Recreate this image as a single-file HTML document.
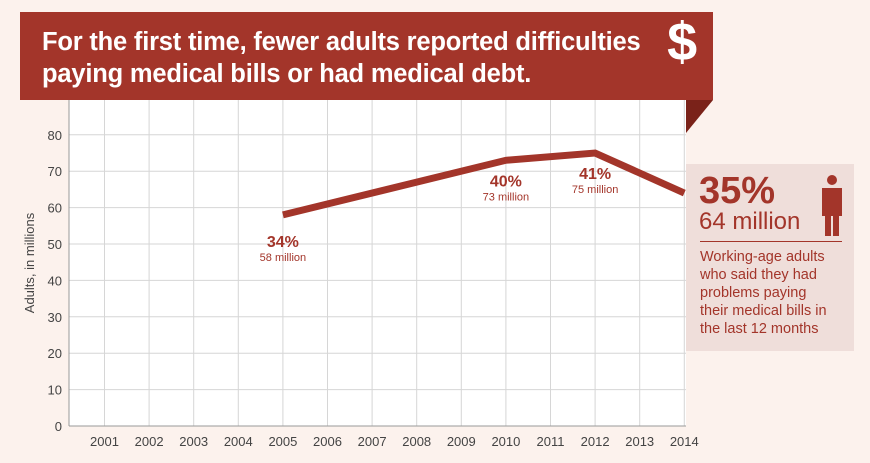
<!DOCTYPE html>
<html><head><meta charset="utf-8"><style>
body{margin:0;width:870px;height:463px;background:#fcf2ed;font-family:"Liberation Sans",sans-serif;overflow:hidden;position:relative}
.banner{position:absolute;left:20px;top:12px;width:693px;height:88px;background:#a3352a;color:#fff;font-weight:bold;font-size:25.5px;line-height:32px;box-sizing:border-box;padding:14px 0 0 22px;letter-spacing:-0.2px}
.dollar{position:absolute;right:16px;top:14px;font-size:54px;font-weight:bold}
.callout{position:absolute;left:686px;top:164px;width:168px;height:187px;background:#efdeda;color:#a3352a}
</style></head><body>
<svg width="870" height="463" style="position:absolute;left:0;top:0">
<rect x="69" y="100" width="617" height="326" fill="#fff"/>
<g id="grid"></g>
<line x1="69" y1="100" x2="69" y2="426" stroke="#999" stroke-width="1"/>
<text x="34" y="263" transform="rotate(-90 34 263)" text-anchor="middle" font-size="13" fill="#444">Adults, in millions</text>
<polygon points="686,100 713,100 686,133" fill="#7a2219"/>
<g id="marks"></g>
</svg>
<div class="banner">For the first time, fewer adults reported difficulties<br>paying medical bills or had medical debt.<span class="dollar">$</span></div>
<div class="callout">
<div style="position:absolute;left:13px;top:6px;font-size:38px;font-weight:bold">35%</div>
<div style="position:absolute;left:13px;top:44px;font-size:24px">64 million</div>
<svg style="position:absolute;left:134px;top:10px" width="24" height="62"><circle cx="12" cy="6" r="5" fill="#a3352a"/><path d="M2 14h20v28h-3v20h-6V42h-2v20H5V42H2z" fill="#a3352a"/></svg>
<div style="position:absolute;left:14px;top:77px;width:142px;height:1px;background:#a3352a"></div>
<div style="position:absolute;left:14px;top:84px;font-size:14.5px;line-height:18px">Working-age adults<br>who said they had<br>problems paying<br>their medical bills in<br>the last 12 months</div>
</div>
<script>
const years=[2001,2002,2003,2004,2005,2006,2007,2008,2009,2010,2011,2012,2013,2014];
const yTicks=[0,10,20,30,40,50,60,70,80];
const seriesYears=[2005,2010,2012,2014];
const seriesValues=[58,73,75,64];
const pctLabels=["34%","40%","41%",""];
const millionLabels=["58 million","73 million","75 million",""];
const NS="http://www.w3.org/2000/svg";
const X=y=>104.5+(y-2001)*44.6;
const Y=v=>426-v*3.64;
function mk(t,a,p){const e=document.createElementNS(NS,t);for(const k in a)e.setAttribute(k,a[k]);p.appendChild(e);return e;}
const g=document.getElementById('grid'),m=document.getElementById('marks');
years.forEach(y=>{const l=mk('line',{x1:X(y),x2:X(y),y1:100,y2:426,stroke:'#d6d6d6'},g);


const t=mk('text',{x:X(y),y:446,'text-anchor':'middle','font-size':13,fill:'#444'},g);t.textContent=y;

});
yTicks.forEach(v=>{const l=mk('line',{x1:69,x2:686,y1:Y(v),y2:Y(v),stroke:v==0?'#999':'#d6d6d6'},g);


const t=mk('text',{x:62,y:Y(v)+5,'text-anchor':'end','font-size':13,fill:'#444'},g);t.textContent=v;

});
const pts=seriesYears.map((y,i)=>X(y)+','+Y(seriesValues[i])).join(' ');
const pl=mk('polyline',{points:pts,fill:'none',stroke:'#a3352a','stroke-width':7,'stroke-linejoin':'miter'},m);


seriesYears.forEach((y,i)=>{if(!pctLabels[i])return;
const off=i==0?32:26;
const a=mk('text',{x:X(y),y:Y(seriesValues[i])+off,'text-anchor':'middle','font-size':16,'font-weight':'bold',fill:'#a3352a'},m);a.textContent=pctLabels[i];


const b=mk('text',{x:X(y),y:Y(seriesValues[i])+off+14,'text-anchor':'middle','font-size':11,fill:'#a3352a'},m);b.textContent=millionLabels[i];

});
</script>
</body></html>
